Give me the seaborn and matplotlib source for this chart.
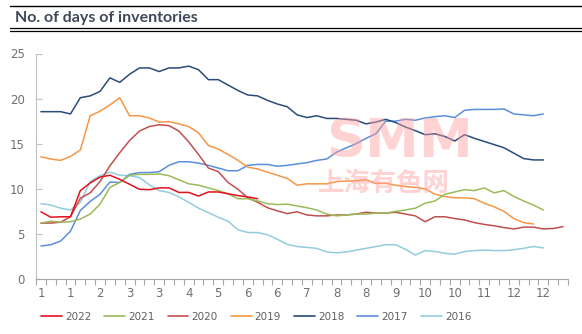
import numpy as np
import pandas as pd
import matplotlib
matplotlib.use("Agg")
import matplotlib.pyplot as plt
from matplotlib.lines import Line2D
import seaborn as sns

# ---- data (weekly days of inventories) ----
x_labels = ["1", "1", "2", "3", "3", "4", "5", "6", "6", "7", "8", "8", "9", "10", "10", "11", "12", "12"]
n_weeks = 54

y2022 = [7.45, 6.85, 6.9, 6.9, 9.8, 10.65, 11.3, 11.5, 11.05, 10.5, 9.95, 9.9, 10.1, 10.1, 9.6, 9.6,
         9.2, 9.65, 9.65, 9.45, 9.25, 9.1, 8.9]
y2021 = [6.2, 6.4, 6.3, 6.35, 6.65, 7.2, 8.3, 10.15, 10.7, 11.5,
         11.6, 11.6, 11.65, 11.45, 11.0, 10.55, 10.4, 10.1, 9.8, 9.45,
         8.9, 8.9, 8.65, 8.35, 8.25, 8.3, 8.1, 7.9, 7.65, 7.2,
         7.0, 7.1, 7.2, 7.2, 7.3, 7.3, 7.5, 7.65, 7.85, 8.4,
         8.65, 9.4, 9.65, 9.9, 9.8, 10.1, 9.55, 9.8, 9.15, 8.65, 8.2, 7.65]
y2020 = [6.2, 6.2, 6.3, 6.9, 8.95, 9.55, 10.8, 12.55, 14.0, 15.35,
         16.4, 16.9, 17.1, 17.0, 16.4, 15.2, 13.8, 12.3, 11.9, 10.7,
         9.95, 9.0, 8.5, 7.9, 7.55, 7.25, 7.45, 7.1, 7.0, 7.0,
         7.1, 7.1, 7.2, 7.4, 7.3, 7.3, 7.4, 7.2, 7.0, 6.35,
         6.9, 6.9, 6.7, 6.55, 6.25, 6.05, 5.9, 5.7, 5.55, 5.75, 5.75, 5.55, 5.6, 5.8]
y2019 = [13.55, 13.3, 13.15, 13.6, 14.3, 18.1, 18.6, 19.3, 20.1, 18.1,
         18.1, 17.85, 17.4, 17.45, 17.2, 16.9, 16.2, 14.8, 14.4, 13.8,
         13.15, 12.4, 12.2, 11.85, 11.5, 11.15, 10.4, 10.55, 10.55, 10.55,
         10.8, 10.85, 10.9, 11.0, 10.6, 10.6, 10.4, 10.25, 10.15, 10.0,
         9.4, 9.15, 9.0, 9.0, 8.9, 8.4, 8.0, 7.5, 6.7, 6.25, 6.1]
y2018 = [18.55, 18.55, 18.55, 18.3, 20.1, 20.3, 20.8, 22.3, 21.8, 22.7,
         23.4, 23.4, 23.0, 23.4, 23.4, 23.6, 23.2, 22.1, 22.1, 21.5,
         20.9, 20.4, 20.3, 19.8, 19.4, 19.1, 18.2, 17.9, 18.1, 17.8,
         17.8, 17.7, 17.6, 17.2, 17.4, 17.7, 17.35, 16.85, 16.45, 16.0,
         16.1, 15.8, 15.3, 16.0, 15.6, 15.25, 14.9, 14.55, 13.95, 13.35, 13.2, 13.2]
y2017 = [3.65, 3.8, 4.2, 5.3, 7.6, 8.6, 9.4, 10.75, 10.7, 11.6,
         11.8, 11.8, 11.9, 12.6, 13.0, 13.0, 12.85, 12.6, 12.3, 12.0,
         12.0, 12.6, 12.7, 12.7, 12.5, 12.6, 12.75, 12.9, 13.15, 13.3,
         14.05, 14.55, 15.0, 15.6, 16.1, 17.5, 17.5, 17.7, 17.6, 17.85,
         18.0, 18.1, 17.9, 18.7, 18.8, 18.8, 18.8, 18.85, 18.3, 18.2, 18.1, 18.3]
y2016 = [8.35, 8.2, 7.85, 7.65, 8.5, 10.8, 11.45, 11.85, 11.5, 11.45,
         11.25, 10.45, 9.8, 9.6, 9.1, 8.5, 7.85, 7.35, 6.85, 6.4,
         5.45, 5.15, 5.15, 4.9, 4.4, 3.85, 3.6, 3.5, 3.4, 3.0,
         2.9, 3.0, 3.2, 3.4, 3.6, 3.8, 3.8, 3.3, 2.65, 3.15,
         3.05, 2.85, 2.75, 3.05, 3.15, 3.2, 3.15, 3.15, 3.25, 3.4, 3.6, 3.45]

years = ["2022", "2021", "2020", "2019", "2018", "2017", "2016"]
series = [y2022, y2021, y2020, y2019, y2018, y2017, y2016]
colors = ["#E3101E", "#9BBB59", "#C0504D", "#F79646", "#2A4B7C", "#5A8FDB", "#93CDDD"]

frames = []
for yr, vals in zip(years, series):
    frames.append(pd.DataFrame({"week": np.arange(len(vals)), "days": vals, "year": yr}))
df = pd.concat(frames, ignore_index=True)

sns.set_theme(style="white")
plt.rcParams["font.family"] = ["DejaVu Sans"]

fig = plt.figure(figsize=(5.82, 3.34), dpi=100)
ax = fig.add_axes([36 / 582, 1 - 279 / 334, (568 - 36) / 582, (279 - 53.5) / 334])

# draw in reverse so 2022 is on top
for yr, col in reversed(list(zip(years, colors))):
    sns.lineplot(data=df[df["year"] == yr], x="week", y="days", color=col,
                 linewidth=1.1, ax=ax, legend=False, zorder=3)

ax.set_xlim(-0.5, n_weeks - 0.5)
ax.set_ylim(0, 25)
ax.set_xlabel("")
ax.set_ylabel("")

ax.set_xticks(np.arange(0, 54, 3))
ax.set_xticklabels(x_labels)
ax.set_xticks(np.arange(-0.5, n_weeks, 1), minor=True)
ax.tick_params(axis="x", which="major", length=0, pad=6, labelsize=8.5, labelcolor="#707070")
ax.tick_params(axis="x", which="minor", length=4, width=0.8, color="#A6A6A6", direction="out", bottom=True)
ax.set_yticks([0, 5, 10, 15, 20, 25])
ax.tick_params(axis="y", which="major", length=4, width=0.8, color="#BFBFBF", direction="in",
               labelsize=8.5, labelcolor="#707070", pad=8, left=True)

for s in ["top", "right"]:
    ax.spines[s].set_visible(False)
ax.spines["left"].set_color("#BFBFBF")
ax.spines["bottom"].set_color("#A6A6A6")
ax.spines["left"].set_linewidth(0.8)
ax.spines["bottom"].set_linewidth(0.8)
ax.grid(False)

# watermark
fig.text(400 / 582, 1 - 142 / 334, "SMM", fontsize=39, fontweight="bold",
         family="Liberation Sans Narrow", color="#FF9E9E", alpha=0.45, ha="center", va="center", zorder=1)
fig.text(384 / 582, 1 - 183 / 334, "上海有色网", fontsize=19, fontweight="bold",
         family=["Noto Sans CJK SC", "DejaVu Sans"], color="#FF9E9E", alpha=0.45,
         ha="center", va="center", zorder=1)

# title and rules
fig.text(15 / 582, 1 - 18 / 334, "No. of days of inventories", fontsize=11.5, fontweight="bold",
         family="Lato", color="#3F4858", ha="left", va="center")
fig.add_artist(Line2D([10 / 582, 1], [1 - 6 / 334] * 2, color="black", lw=1.0))
fig.add_artist(Line2D([10 / 582, 1], [1 - 28.3 / 334] * 2, color="black", lw=0.9))
fig.add_artist(Line2D([10 / 582, 1], [1 - 30.8 / 334] * 2, color="black", lw=0.9))

handles = [Line2D([0], [0], color=c, lw=1.2) for c in colors]
fig.legend(handles, years, loc="center", bbox_to_anchor=(256 / 582, 1 - 317 / 334), ncol=7,
           frameon=False, prop={"family": "Liberation Sans Narrow", "size": 7.5},
           handlelength=2.0, handletextpad=0.3, columnspacing=1.25,
           labelcolor="#606060")

fig.savefig("out.png", dpi=100)
